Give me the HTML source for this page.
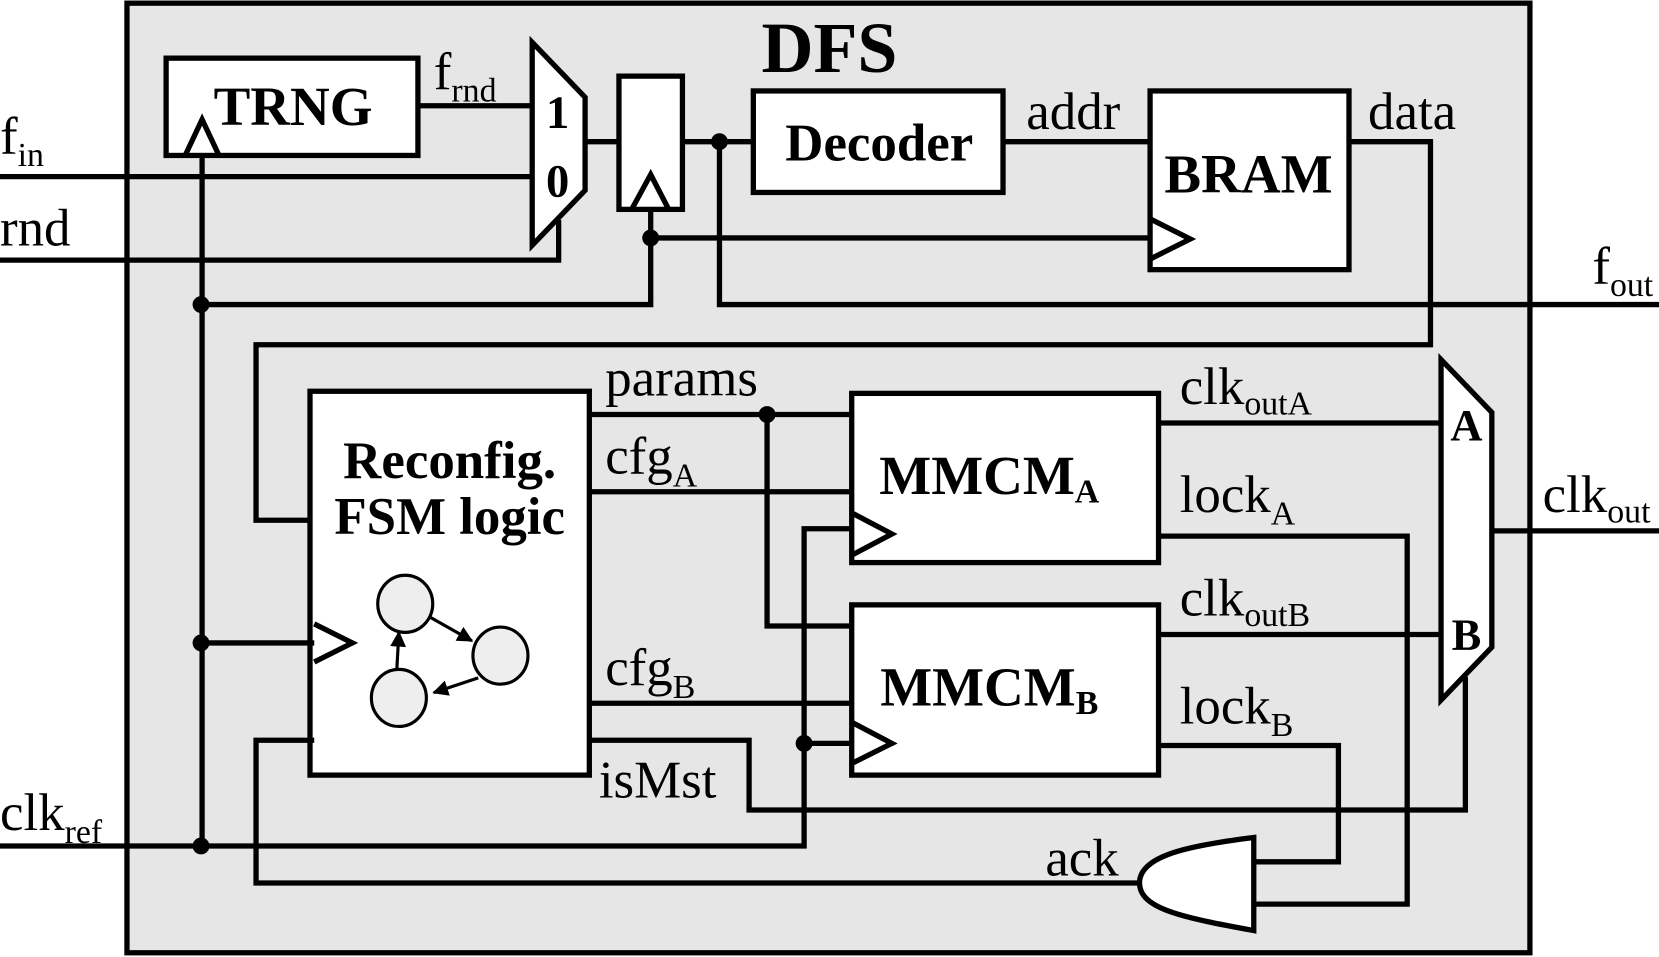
<!DOCTYPE html>
<html><head><meta charset="utf-8"><style>html,body{margin:0;padding:0;background:#fff}svg{display:block}</style></head>
<body>
<svg width="1659" height="957" viewBox="0 0 1568 905" preserveAspectRatio="none" xmlns="http://www.w3.org/2000/svg" font-family="'Liberation Serif', serif">
<defs><marker id="ar" viewBox="0 0 10 10" refX="9" refY="5" markerWidth="5" markerHeight="5" orient="auto"><path d="M0,0 L10,5 L0,10 Z" fill="#000"/></marker></defs>
<g stroke="#000" stroke-width="5" stroke-linejoin="miter" fill="none">
<rect x="120" y="3" width="1326" height="898" fill="#e6e6e6"/>
<rect x="157" y="55" width="238" height="92" fill="#fff"/>
<polyline points="175,147 191,113 207,147"/>
<polygon points="503,40 553,92 553,180 503,232" fill="#fff"/>
<rect x="585" y="72" width="60" height="126" fill="#fff"/>
<polyline points="597,198 615,165 632,198"/>
<rect x="712" y="86" width="236" height="96" fill="#fff"/>
<rect x="1087" y="86" width="188" height="169" fill="#fff"/>
<polyline points="1087,207 1125,226 1087,245"/>
<rect x="293" y="370" width="264" height="363" fill="#fff"/>
<polyline points="297,590 333,608 297,626"/>
<rect x="805" y="372" width="290" height="160" fill="#fff"/>
<polyline points="805,485 843,505 805,525"/>
<rect x="805" y="572" width="290" height="161" fill="#fff"/>
<polyline points="805,683 843,703 805,722"/>
<polygon points="1362,340 1410,390 1410,612 1362,662" fill="#fff"/>
<path d="M1185,792 L1185,880 C1120,868 1077,860 1077,835 C1077,810 1120,800 1185,792 Z" fill="#fff"/>
<line x1="395" y1="100" x2="503" y2="100"/>
<line x1="0" y1="167" x2="503" y2="167"/>
<polyline points="528,208 528,246 0,246"/>
<line x1="553" y1="134" x2="585" y2="134"/>
<polyline points="615,198 615,288 190,288"/>
<line x1="615" y1="225" x2="1087" y2="225"/>
<line x1="645" y1="134" x2="712" y2="134"/>
<polyline points="680,134 680,288 1568,288"/>
<line x1="948" y1="134" x2="1087" y2="134"/>
<polyline points="1275,134 1352,134 1352,326 242,326 242,492 293,492"/>
<line x1="191" y1="147" x2="191" y2="800"/>
<line x1="191" y1="608" x2="297" y2="608"/>
<polyline points="0,800 760,800 760,500 805,500"/>
<line x1="760" y1="703" x2="805" y2="703"/>
<line x1="557" y1="392" x2="805" y2="392"/>
<polyline points="725,392 725,592 805,592"/>
<line x1="557" y1="465" x2="805" y2="465"/>
<line x1="557" y1="665" x2="805" y2="665"/>
<polyline points="557,700 708,700 708,766 1385,766 1385,640"/>
<polyline points="297,700 242,700 242,835 1077,835"/>
<line x1="1095" y1="400" x2="1362" y2="400"/>
<polyline points="1095,507 1330,507 1330,855 1185,855"/>
<line x1="1095" y1="600" x2="1362" y2="600"/>
<polyline points="1095,705 1265,705 1265,815 1185,815"/>
<line x1="1410" y1="502" x2="1568" y2="502"/>
</g>
<g fill="#000">
<circle cx="190" cy="288" r="8"/><circle cx="190" cy="608" r="8"/><circle cx="190" cy="800" r="8"/>
<circle cx="615" cy="225" r="8"/><circle cx="680" cy="134" r="8"/><circle cx="725" cy="392" r="8"/><circle cx="760" cy="703" r="8"/>
</g>
<g stroke="#000" stroke-width="3" fill="#eee">
<ellipse cx="383" cy="571" rx="26" ry="27"/>
<ellipse cx="473" cy="620" rx="26" ry="27"/>
<ellipse cx="377" cy="660" rx="26" ry="27"/>
<line x1="407" y1="584" x2="446" y2="606" marker-end="url(#ar)"/>
<line x1="452" y1="641" x2="410" y2="655" marker-end="url(#ar)"/>
<line x1="375" y1="634" x2="377" y2="598" marker-end="url(#ar)"/>
</g>
<g font-weight="bold" text-anchor="middle" fill="#000">
<text x="784" y="68" font-size="68">DFS</text>
<text x="277" y="118" font-size="52">TRNG</text>
<text x="527" y="121" font-size="44">1</text>
<text x="527" y="186" font-size="44">0</text>
<text x="831" y="152" font-size="50">Decoder</text>
<text x="1180" y="182" font-size="52">BRAM</text>
<text x="425" y="452" font-size="50">Reconfig.</text>
<text x="425" y="505" font-size="50">FSM logic</text>
<text x="935" y="467" font-size="52">MMCM<tspan font-size="32" dy="8">A</tspan></text>
<text x="935" y="667" font-size="52">MMCM<tspan font-size="32" dy="8">B</tspan></text>
<text x="1386" y="416" font-size="42">A</text>
<text x="1386" y="614" font-size="42">B</text>
</g>
<g font-size="50" fill="#000">
<text x="0" y="145">f<tspan font-size="32" dy="12">in</tspan></text>
<text x="0" y="232">rnd</text>
<text x="0" y="785">clk<tspan font-size="32" dy="12">ref</tspan></text>
<text x="410" y="84">f<tspan font-size="32" dy="12">rnd</tspan></text>
<text x="970" y="122">addr</text>
<text x="1293" y="122">data</text>
<text x="1505" y="268">f<tspan font-size="32" dy="12">out</tspan></text>
<text x="572" y="374">params</text>
<text x="572" y="448">cfg<tspan font-size="32" dy="12">A</tspan></text>
<text x="572" y="648">cfg<tspan font-size="32" dy="12">B</tspan></text>
<text x="566" y="754">isMst</text>
<text x="988" y="828">ack</text>
<text x="1115" y="382">clk<tspan font-size="32" dy="10">outA</tspan></text>
<text x="1115" y="484">lock<tspan font-size="32" dy="12">A</tspan></text>
<text x="1115" y="582">clk<tspan font-size="32" dy="10">outB</tspan></text>
<text x="1115" y="684">lock<tspan font-size="32" dy="12">B</tspan></text>
<text x="1458" y="484">clk<tspan font-size="32" dy="10">out</tspan></text>
</g>
</svg>
</body></html>
